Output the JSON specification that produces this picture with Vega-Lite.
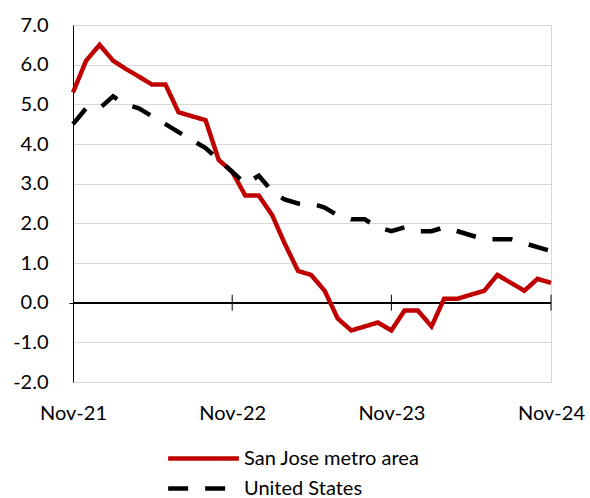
{
  "$schema": "https://vega.github.io/schema/vega-lite/v6.json",
  "width": 478,
  "height": 357,
  "autosize": {"type": "none"},
  "padding": {"left": 73, "top": 25, "right": 39, "bottom": 116},
  "background": "white",
  "config": {
    "view": {"stroke": "#d9d9d9", "strokeWidth": 1},
    "font": "Lato",
    "axis": {"labelFont": "Lato", "labelColor": "#000000", "labelOverlap": false},
    "axisY": {"labelOverlap": false}
  },
  "datasets": {
    "series": [
      {"date": "2021-11-01", "series": "San Jose metro area", "value": 5.3},
      {"date": "2021-12-01", "series": "San Jose metro area", "value": 6.1},
      {"date": "2022-01-01", "series": "San Jose metro area", "value": 6.5},
      {"date": "2022-02-01", "series": "San Jose metro area", "value": 6.1},
      {"date": "2022-03-01", "series": "San Jose metro area", "value": 5.9},
      {"date": "2022-04-01", "series": "San Jose metro area", "value": 5.7},
      {"date": "2022-05-01", "series": "San Jose metro area", "value": 5.5},
      {"date": "2022-06-01", "series": "San Jose metro area", "value": 5.5},
      {"date": "2022-07-01", "series": "San Jose metro area", "value": 4.8},
      {"date": "2022-08-01", "series": "San Jose metro area", "value": 4.7},
      {"date": "2022-09-01", "series": "San Jose metro area", "value": 4.6},
      {"date": "2022-10-01", "series": "San Jose metro area", "value": 3.6},
      {"date": "2022-11-01", "series": "San Jose metro area", "value": 3.3},
      {"date": "2022-12-01", "series": "San Jose metro area", "value": 2.7},
      {"date": "2023-01-01", "series": "San Jose metro area", "value": 2.7},
      {"date": "2023-02-01", "series": "San Jose metro area", "value": 2.2},
      {"date": "2023-03-01", "series": "San Jose metro area", "value": 1.5},
      {"date": "2023-04-01", "series": "San Jose metro area", "value": 0.8},
      {"date": "2023-05-01", "series": "San Jose metro area", "value": 0.7},
      {"date": "2023-06-01", "series": "San Jose metro area", "value": 0.3},
      {"date": "2023-07-01", "series": "San Jose metro area", "value": -0.4},
      {"date": "2023-08-01", "series": "San Jose metro area", "value": -0.7},
      {"date": "2023-09-01", "series": "San Jose metro area", "value": -0.6},
      {"date": "2023-10-01", "series": "San Jose metro area", "value": -0.5},
      {"date": "2023-11-01", "series": "San Jose metro area", "value": -0.7},
      {"date": "2023-12-01", "series": "San Jose metro area", "value": -0.2},
      {"date": "2024-01-01", "series": "San Jose metro area", "value": -0.2},
      {"date": "2024-02-01", "series": "San Jose metro area", "value": -0.6},
      {"date": "2024-03-01", "series": "San Jose metro area", "value": 0.1},
      {"date": "2024-04-01", "series": "San Jose metro area", "value": 0.1},
      {"date": "2024-05-01", "series": "San Jose metro area", "value": 0.2},
      {"date": "2024-06-01", "series": "San Jose metro area", "value": 0.3},
      {"date": "2024-07-01", "series": "San Jose metro area", "value": 0.7},
      {"date": "2024-08-01", "series": "San Jose metro area", "value": 0.5},
      {"date": "2024-09-01", "series": "San Jose metro area", "value": 0.3},
      {"date": "2024-10-01", "series": "San Jose metro area", "value": 0.6},
      {"date": "2024-11-01", "series": "San Jose metro area", "value": 0.5},
      {"date": "2021-11-01", "series": "United States", "value": 4.5},
      {"date": "2021-12-01", "series": "United States", "value": 4.9},
      {"date": "2022-01-01", "series": "United States", "value": 4.9},
      {"date": "2022-02-01", "series": "United States", "value": 5.2},
      {"date": "2022-03-01", "series": "United States", "value": 5.0},
      {"date": "2022-04-01", "series": "United States", "value": 4.9},
      {"date": "2022-05-01", "series": "United States", "value": 4.7},
      {"date": "2022-06-01", "series": "United States", "value": 4.5},
      {"date": "2022-07-01", "series": "United States", "value": 4.3},
      {"date": "2022-08-01", "series": "United States", "value": 4.1},
      {"date": "2022-09-01", "series": "United States", "value": 3.9},
      {"date": "2022-10-01", "series": "United States", "value": 3.6},
      {"date": "2022-11-01", "series": "United States", "value": 3.3},
      {"date": "2022-12-01", "series": "United States", "value": 3.0},
      {"date": "2023-01-01", "series": "United States", "value": 3.2},
      {"date": "2023-02-01", "series": "United States", "value": 2.8},
      {"date": "2023-03-01", "series": "United States", "value": 2.6},
      {"date": "2023-04-01", "series": "United States", "value": 2.5},
      {"date": "2023-05-01", "series": "United States", "value": 2.5},
      {"date": "2023-06-01", "series": "United States", "value": 2.4},
      {"date": "2023-07-01", "series": "United States", "value": 2.2},
      {"date": "2023-08-01", "series": "United States", "value": 2.1},
      {"date": "2023-09-01", "series": "United States", "value": 2.1},
      {"date": "2023-10-01", "series": "United States", "value": 1.9},
      {"date": "2023-11-01", "series": "United States", "value": 1.8},
      {"date": "2023-12-01", "series": "United States", "value": 1.9},
      {"date": "2024-01-01", "series": "United States", "value": 1.8},
      {"date": "2024-02-01", "series": "United States", "value": 1.8},
      {"date": "2024-03-01", "series": "United States", "value": 1.9},
      {"date": "2024-04-01", "series": "United States", "value": 1.8},
      {"date": "2024-05-01", "series": "United States", "value": 1.7},
      {"date": "2024-06-01", "series": "United States", "value": 1.6},
      {"date": "2024-07-01", "series": "United States", "value": 1.6},
      {"date": "2024-08-01", "series": "United States", "value": 1.6},
      {"date": "2024-09-01", "series": "United States", "value": 1.5},
      {"date": "2024-10-01", "series": "United States", "value": 1.4},
      {"date": "2024-11-01", "series": "United States", "value": 1.3}
    ],
    "ticks": [
      {"date": "2022-11-01", "lo": -0.2, "hi": 0.2},
      {"date": "2023-11-01", "lo": -0.2, "hi": 0.2},
      {"date": "2024-11-01", "lo": -0.2, "hi": 0.2}
    ]
  },
  "encoding": {
    "y": {
      "type": "quantitative",
      "scale": {"domain": [-2, 7], "nice": false, "zero": false},
      "axis": {
        "title": null,
        "values": [-2, -1, 0, 1, 2, 3, 4, 5, 6, 7],
        "labelExpr": "replace(format(datum.value, '.1f'), '\u2212', '-')",
        "domain": true,
        "domainColor": "#000000",
        "domainWidth": 1,
        "ticks": true,
        "tickSize": 4,
        "tickColor": {"expr": "datum.value === 0 ? '#000000' : 'rgba(0,0,0,0)'"},
        "grid": true,
        "gridColor": "#d9d9d9",
        "gridWidth": 1,
        "labelFontSize": 20,
        "labelPadding": 21,
        "labelOverlap": false
      }
    }
  },
  "layer": [
    {
      "data": {"name": "series"},
      "mark": {"type": "rule", "color": "#000000", "strokeWidth": 1},
      "encoding": {"y": {"datum": 0, "type": "quantitative"}}
    },
    {
      "data": {"name": "ticks"},
      "mark": {"type": "rule", "color": "#000000", "strokeWidth": 1},
      "encoding": {
        "x": {"field": "date", "type": "temporal"},
        "y": {"field": "lo", "type": "quantitative"},
        "y2": {"field": "hi"}
      }
    },
    {
      "data": {"name": "series"},
      "mark": {"type": "line", "strokeWidth": 4.5, "strokeJoin": "miter", "strokeCap": "butt"},
      "encoding": {
        "x": {
          "field": "date",
          "type": "temporal",
          "scale": {"domain": [{"year": 2021, "month": "nov", "date": 1}, {"year": 2024, "month": "nov", "date": 1}], "nice": false},
          "axis": {
            "title": null,
            "values": [
              {"year": 2021, "month": "nov", "date": 1},
              {"year": 2022, "month": "nov", "date": 1},
              {"year": 2023, "month": "nov", "date": 1},
              {"year": 2024, "month": "nov", "date": 1}
            ],
            "format": "%b-%y",
            "domain": false,
            "ticks": false,
            "grid": false,
            "labelFontSize": 20,
            "labelPadding": 21,
            "labelFlush": false,
            "labelOverlap": false
          }
        },
        "y": {"field": "value", "type": "quantitative"},
        "color": {
          "field": "series",
          "type": "nominal",
          "scale": {"domain": ["San Jose metro area", "United States"], "range": ["#C00000", "#000000"]},
          "legend": {
            "title": null,
            "orient": "none",
            "legendX": 95,
            "legendY": 417,
            "direction": "vertical",
            "symbolType": "M-2.5,0H2.5",
            "symbolSize": 800,
            "symbolStrokeWidth": 4.5,
            "symbolOffset": 19,
            "labelFontSize": 20,
            "labelColor": "#000000",
            "labelOffset": 24,
            "labelLimit": 400,
            "rowPadding": 3
          }
        },
        "strokeDash": {
          "field": "series",
          "type": "nominal",
          "scale": {"domain": ["San Jose metro area", "United States"], "range": [[1, 0], [20, 17]]},
          "legend": {
            "title": null,
            "orient": "none",
            "legendX": 95,
            "legendY": 417,
            "direction": "vertical",
            "symbolType": "M-2.5,0H2.5",
            "symbolSize": 800,
            "symbolStrokeWidth": 4.5,
            "symbolOffset": 19,
            "labelFontSize": 20,
            "labelColor": "#000000",
            "labelOffset": 24,
            "labelLimit": 400,
            "rowPadding": 3
          }
        }
      }
    }
  ]
}
